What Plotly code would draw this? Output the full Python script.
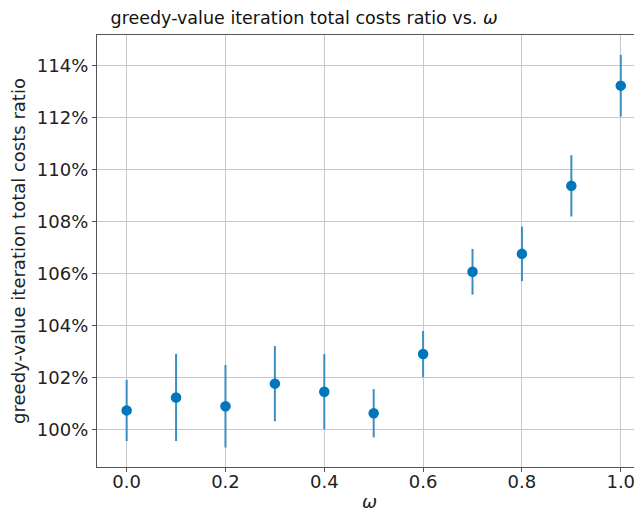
import plotly.graph_objects as go

# omega values and mean ratio (as fraction) with symmetric error
omega = [0.0, 0.1, 0.2, 0.3, 0.4, 0.5, 0.6, 0.7, 0.8, 0.9, 1.0]
ratio = [1.0073, 1.0123, 1.0089, 1.0176, 1.0145, 1.0062,
         1.0290, 1.0607, 1.0676, 1.0938, 1.1324]
err = [0.0118, 0.0168, 0.0159, 0.0145, 0.0145, 0.0093,
       0.0089, 0.0088, 0.0105, 0.0118, 0.0119]

y_ticks = [1.00, 1.02, 1.04, 1.06, 1.08, 1.10, 1.12, 1.14]

FONT = "DejaVu Sans"

fig = go.Figure(go.Scatter(
    x=omega,
    y=ratio,
    mode="markers",
    marker=dict(size=10.5, color="#0077bb"),
    error_y=dict(type="data", array=err, visible=True,
                 color="#3a8fc2", thickness=2, width=0),
))

# the page adds ~8px body margin, so the figure is a bit smaller than the window
fig.update_layout(
    width=634,
    height=504,
    margin=dict(l=89, r=0, t=27, b=45, autoexpand=False),
    paper_bgcolor="white",
    plot_bgcolor="white",
    font=dict(family=FONT, size=18, color="#222222"),
    showlegend=False,
    title=dict(
        text="greedy-value iteration total costs ratio vs. <i>ω</i>",
        x=0.38, xref="paper", xanchor="center",
        y=1 - 10 / 504, yref="container", yanchor="middle",
        font=dict(family=FONT, size=17.5, color="#111111"),
    ),
)

fig.update_xaxes(
    automargin=False,
    range=[-0.06, 1.043],
    tickvals=[0.0, 0.2, 0.4, 0.6, 0.8, 1.0],
    ticktext=["0.0", "0.2", "0.4", "0.6", "0.8", "1.0"],
    showgrid=True, gridcolor="#c8c8c8", gridwidth=1,
    showline=True, linecolor="#555555", linewidth=1.2, mirror=True,
    ticks="outside", ticklen=4, tickcolor="#555555",
    ticklabelstandoff=-6,
    zeroline=False,
    title=dict(text="<i>ω</i>", standoff=12, font=dict(size=18)),
)

fig.update_yaxes(
    automargin=False,
    range=[0.9855, 1.1519],
    tickvals=y_ticks,
    tickformat=".0%",
    showgrid=True, gridcolor="#c8c8c8", gridwidth=1,
    showline=True, linecolor="#555555", linewidth=1.2,
    ticks="outside", ticklen=4, tickcolor="#555555",
    zeroline=False,
    title=dict(text="greedy-value iteration total costs ratio", standoff=9,
               font=dict(size=18)),
)

fig.write_html("out.html")
